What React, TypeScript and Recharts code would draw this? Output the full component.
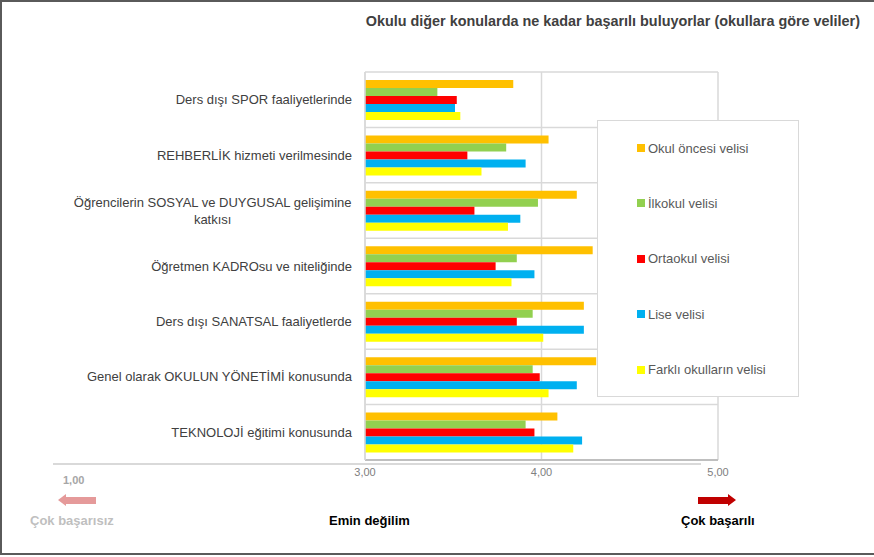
import React from "react";
import { BarChart, Bar, XAxis, YAxis, CartesianGrid } from "recharts";

const categories = [
  "Ders dışı SPOR faaliyetlerinde",
  "REHBERLİK hizmeti verilmesinde",
  "Öğrencilerin SOSYAL ve DUYGUSAL gelişimine\nkatkısı",
  "Öğretmen KADROsu ve niteliğinde",
  "Ders dışı SANATSAL faaliyetlerde",
  "Genel olarak OKULUN YÖNETİMİ konusunda",
  "TEKNOLOJİ eğitimi konusunda",
];

const okulOncesi = [3.84, 4.04, 4.2, 4.29, 4.24, 4.31, 4.09];
const ilkokul = [3.41, 3.8, 3.98, 3.86, 3.95, 3.95, 3.91];
const ortaokul = [3.52, 3.58, 3.62, 3.74, 3.86, 3.99, 3.96];
const lise = [3.51, 3.91, 3.88, 3.96, 4.24, 4.2, 4.23];
const farkli = [3.54, 3.66, 3.81, 3.83, 4.01, 4.04, 4.18];

const xTicks = [3, 4, 5];

const series = [
  { key: "okulOncesi", name: "Okul öncesi velisi", color: "#FFC000", values: okulOncesi },
  { key: "ilkokul", name: "İlkokul velisi", color: "#92D050", values: ilkokul },
  { key: "ortaokul", name: "Ortaokul velisi", color: "#FF0000", values: ortaokul },
  { key: "lise", name: "Lise velisi", color: "#00B0F0", values: lise },
  { key: "farkli", name: "Farklı okulların velisi", color: "#FFFF00", values: farkli },
];

const data = categories.map((c, i) => {
  const row: any = { category: c };
  series.forEach((s) => (row[s.key] = s.values[i]));
  return row;
});

const FONT = "'Liberation Sans', Arial, sans-serif";
const NARROW = "'Liberation Sans Narrow', 'Liberation Sans', sans-serif";

let ctx: CanvasRenderingContext2D | null = null;
function textWidth(t: string) {
  if (!ctx) ctx = document.createElement("canvas").getContext("2d");
  if (!ctx) return t.length * 6.5;
  ctx.font = `13px ${FONT}`;
  return ctx.measureText(t).width;
}

const CategoryTick = (props: any) => {
  const { x, y, payload } = props;
  const lines: string[] = String(payload.value).split("\n");
  const w = Math.max(...lines.map(textWidth));
  const cx = x - 5 - w / 2;
  const lh = 17;
  const start = y - ((lines.length - 1) * lh) / 2;
  return (
    <g>
      {lines.map((l, i) => (
        <text
          key={i}
          x={cx}
          y={start + i * lh}
          dy="0.35em"
          textAnchor="middle"
          fontSize={13}
          fill="#404040"
          fontFamily={FONT}
        >
          {l}
        </text>
      ))}
    </g>
  );
};

const bottomLabel = (color: string): React.CSSProperties => ({
  position: "absolute",
  top: 513,
  fontSize: 13,
  fontWeight: "bold",
  color,
  fontFamily: NARROW,
  whiteSpace: "nowrap",
});

export default function App() {
  return (
    <div
      style={{
        position: "absolute",
        left: 0,
        top: 0,
        width: 874,
        height: 557,
        background: "#fff",
        fontFamily: FONT,
      }}
    >
      <div
        style={{
          position: "absolute",
          left: 0,
          top: 0,
          width: 876,
          height: 555,
          border: "2px solid #5a5a5a",
          boxSizing: "border-box",
        }}
      />
      <div
        style={{
          position: "absolute",
          right: 14,
          top: 13,
          fontSize: 14.4,
          fontWeight: "bold",
          color: "#404040",
          whiteSpace: "nowrap",
        }}
      >
        Okulu diğer konularda ne kadar başarılı buluyorlar (okullara göre veliler)
      </div>

      <div style={{ position: "absolute", left: 0, top: 0 }}>
        <BarChart
          width={874}
          height={557}
          data={data}
          layout="vertical"
          margin={{ top: 72, right: 156, bottom: 67, left: 5 }}
          barGap={0}
          barSize={8}
        >
          <CartesianGrid
            stroke="#d9d9d9"
            strokeWidth={1.5}
            horizontalCoordinatesGenerator={({ offset }: any) =>
              categories.map((_, i) => offset.top + (i * offset.height) / categories.length)
            }
          />
          <XAxis
            type="number"
            domain={[3, 5]}
            ticks={xTicks}
            tickFormatter={(v: number) => v.toFixed(2).replace(".", ",")}
            axisLine={{ stroke: "#bfbfbf", strokeWidth: 2 }}
            tickLine={false}
            tick={{ fontSize: 11, fill: "#808080", fontFamily: NARROW }}
            height={30}
            interval={0}
          />
          <YAxis
            type="category"
            dataKey="category"
            width={360}
            axisLine={{ stroke: "#d9d9d9", strokeWidth: 1.5 }}
            tickLine={false}
            tick={<CategoryTick />}
            interval={0}
          />
          {series.map((s) => (
            <Bar
              key={s.key}
              dataKey={s.key}
              name={s.name}
              fill={s.color}
              isAnimationActive={false}
            />
          ))}
        </BarChart>
      </div>

      {/* legend box */}
      <div
        style={{
          position: "absolute",
          left: 597,
          top: 120,
          width: 202,
          height: 277,
          border: "1.5px solid #d9d9d9",
          background: "#fff",
          boxSizing: "border-box",
        }}
      >
        {series.map((s, i) => (
          <div
            key={s.key}
            style={{
              position: "absolute",
              left: 39,
              top: 27 + i * 55.4 - 9,
              height: 18,
              display: "flex",
              alignItems: "center",
              fontSize: 13,
              color: "#595959",
              whiteSpace: "nowrap",
            }}
          >
            <span
              style={{ display: "inline-block", width: 8, height: 8, background: s.color, marginRight: 3 }}
            />
            {s.name}
          </div>
        ))}
      </div>

      {/* scale explanation under the chart */}
      <div style={{ position: "absolute", left: 53, top: 463, width: 648, height: 2, background: "#d9d9d9" }} />
      <div
        style={{
          position: "absolute",
          left: 63,
          top: 474,
          fontSize: 11,
          fontWeight: "bold",
          color: "#a6a6a6",
          fontFamily: NARROW,
        }}
      >
        1,00
      </div>
      <svg style={{ position: "absolute", left: 56, top: 493 }} width={42} height={15}>
        <polygon points="2,7 10,1 10,4 40,4 40,11 10,11 10,13" fill="#e59a9a" />
      </svg>
      <svg style={{ position: "absolute", left: 696, top: 493 }} width={42} height={15}>
        <polygon points="40,7 32,1 32,4 2,4 2,11 32,11 32,13" fill="#c00000" />
      </svg>
      <div style={{ ...bottomLabel("#bfbfbf"), left: 30 }}>Çok başarısız</div>
      <div style={{ ...bottomLabel("#000"), left: 329 }}>Emin değilim</div>
      <div style={{ ...bottomLabel("#000"), left: 681 }}>Çok başarılı</div>
    </div>
  );
}
